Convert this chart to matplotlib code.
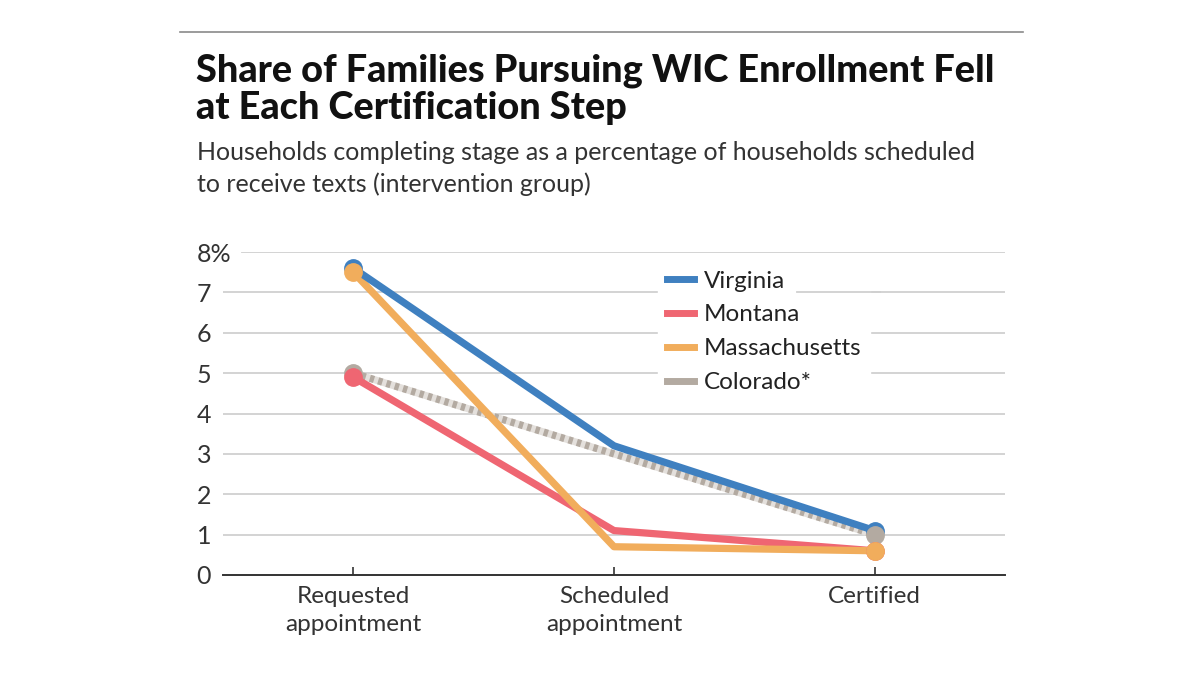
import matplotlib
matplotlib.use("Agg")
import matplotlib.pyplot as plt
from matplotlib.lines import Line2D

# ---- data ----
stages = ["Requested\nappointment", "Scheduled\nappointment", "Certified"]
virginia = [7.6, 3.2, 1.1]
montana = [4.9, 1.1, 0.6]
massachusetts = [7.5, 0.7, 0.6]
colorado = [5.0, 3.0, 1.0]
yticks = [0, 1, 2, 3, 4, 5, 6, 7, 8]
ytick_labels = ["0", "1", "2", "3", "4", "5", "6", "7", "8%"]
series_names = ["Virginia", "Montana", "Massachusetts", "Colorado*"]
title_lines = ["Share of Families Pursuing WIC Enrollment Fell", "at Each Certification Step"]
subtitle_lines = ["Households completing stage as a percentage of households scheduled",
                  "to receive texts (intervention group)"]

C_VA = "#3f80c0"
C_MT = "#ef6672"
C_MA = "#f1ad5c"
C_CO = "#b3aaa1"
C_CO_LIGHT = "#e4e0dc"
GRID = "#d0d0d0"

plt.rcParams['font.family'] = ['Lato', 'DejaVu Sans']

W, H = 1200, 675
fig = plt.figure(figsize=(12, 6.75), dpi=100)
fig.patch.set_facecolor("white")

def fx(px):
    return px / W

def fy(py):
    return 1 - py / H

# top rule
fig.add_artist(Line2D([fx(180), fx(1023)], [fy(32), fy(32)], color="#8a8a8a", lw=1.2))

for line, base in zip(title_lines, [81, 119]):
    fig.text(fx(196), fy(base), line, fontsize=27.3, fontweight="black",
             color="#111111", ha="left", va="baseline")
for line, base in zip(subtitle_lines, [160, 192]):
    fig.text(fx(197), fy(base), line, fontsize=18, color="#333333",
             ha="left", va="baseline")

AX_L, AX_R, AX_T, AX_B = 223, 1005, 252, 575
ax = fig.add_axes([fx(AX_L), fy(AX_B), (AX_R - AX_L) / W, (AX_B - AX_T) / H])
x = list(range(len(stages)))

def axx(px):
    return (px - AX_L) / (AX_R - AX_L)

def axy(py):
    return (AX_B - py) / (AX_B - AX_T)

# gridlines
for t in yticks[1:]:
    xmin = axx(242) if t == 8 else 0
    ax.axhline(t, xmin=xmin, xmax=1, color=GRID, lw=1.3, zorder=0)

lw = 5.2
ax.plot(x, colorado, color=C_CO_LIGHT, lw=lw, zorder=2)
ax.plot(x, colorado, color=C_CO, lw=lw, dashes=(0.6, 0.6), zorder=2.1)
ax.plot(x, montana, color=C_MT, lw=lw, zorder=3)
ax.plot(x, massachusetts, color=C_MA, lw=lw, zorder=4)
ax.plot(x, virginia, color=C_VA, lw=lw, zorder=5)

ends = [0, 2]
ms = 12.5
ax.plot(ends, [virginia[i] for i in ends], "o", color=C_VA, ms=ms, zorder=6)
ax.plot(ends, [colorado[i] for i in ends], "o", color=C_CO, ms=ms, zorder=7)
ax.plot(ends, [montana[i] for i in ends], "o", color=C_MT, ms=ms, zorder=8)
ax.plot(ends, [massachusetts[i] for i in ends], "o", color=C_MA, ms=ms, zorder=9)

ax.set_xlim(-0.5, 2.5)
ax.set_ylim(0, 8)
ax.set_xticks(x)
ax.set_xticklabels(stages, fontsize=17.5, color="#333333", linespacing=1.4)
ax.set_yticks(yticks)
ax.set_yticklabels(ytick_labels, fontsize=18, color="#333333")
for lab in ax.get_yticklabels():
    lab.set_horizontalalignment("left")
ax.tick_params(axis="y", length=0, pad=19)
ax.tick_params(axis="x", length=6, width=1.2, color="#333333", pad=8, direction="in")
for s in ["top", "right", "left"]:
    ax.spines[s].set_visible(False)
ax.spines["bottom"].set_color("#333333")
ax.spines["bottom"].set_linewidth(1.4)
ax.set_facecolor("none")

handles = [Line2D([], [], color=c, lw=5) for c in (C_VA, C_MT, C_MA, C_CO)]
leg = ax.legend(handles, series_names,
                loc="upper left", bbox_to_anchor=(axx(658), axy(262)),
                frameon=True, fancybox=False, framealpha=1, edgecolor="white",
                facecolor="white", fontsize=17.5, handlelength=1.15, handletextpad=0.4,
                labelspacing=0.53, borderpad=0.35, borderaxespad=0)
leg.set_zorder(10)
for t in leg.get_texts():
    t.set_color("#222222")
# gridline at 7 shows again right of the short "Virginia" label
ax.axhline(7, xmin=axx(797), xmax=axx(880), color=GRID, lw=1.3, zorder=11)

fig.savefig("out.png", dpi=100, facecolor="white")
